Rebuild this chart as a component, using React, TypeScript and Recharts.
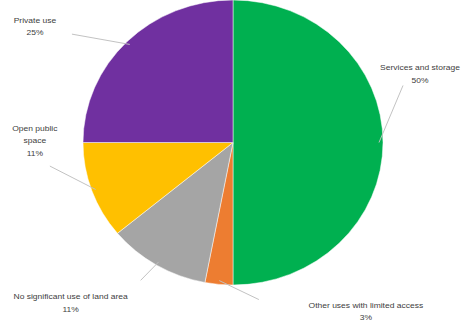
import React from 'react';
import { PieChart, Pie, Cell } from 'recharts';

// slice order: clockwise from 12 o'clock
const categories = [
  'Services and storage',
  'Other uses with limited access',
  'No significant use of land area',
  'Open public\nspace',
  'Private use',
];
const shares = [50, 3, 11, 11, 25];
const percentLabels = ['50%', '3%', '11%', '11%', '25%'];

const colors = ['#00b050', '#ed7d31', '#a5a5a5', '#ffc000', '#7030a0'];

// label text position relative to the slice's outer edge point, and where the leader line ends
const labelOffsets = [
  { dx: 37, dy: -76, lx: 20, ly: -60 },
  { dx: 147, dy: 25, lx: 40, ly: 16 },
  { dx: -86, dy: 36, lx: -16, ly: 16 },
  { dx: -57, dy: -63, lx: -42, ly: -26 },
  { dx: -92, dy: -20, lx: -55, ly: -8 },
];

const data = categories.map((name, i) => ({ name, value: shares[i], pct: percentLabels[i] }));

const RADIAN = Math.PI / 180;
const SQUASH = 0.95; // the source pie is slightly wider than tall

function renderLabel(props: any) {
  const { cx, cy, midAngle, outerRadius, index } = props;
  const cos = Math.cos(-midAngle * RADIAN);
  const sin = Math.sin(-midAngle * RADIAN);
  const ex = cx + outerRadius * cos;
  const ey = cy + outerRadius * sin;
  const off = labelOffsets[index];
  const lines = String(data[index].name).split('\n');
  const tx = ex + off.dx;
  const ty = ey + off.dy;
  return (
    <g key={`lbl-${index}`}>
      <line
        x1={ex - cos * 4}
        y1={ey - sin * 4}
        x2={ex + off.lx}
        y2={ey + off.ly}
        stroke="#c0c0c0"
        strokeWidth={1}
      />
      <text x={tx} y={ty} textAnchor="middle" fontSize={8.5} fill="#404040" fontFamily="Liberation Sans, Arial, sans-serif">
        {lines.map((l, i) => (
          <tspan key={i} x={tx} dy={i === 0 ? 0 : 13}>
            {l}
          </tspan>
        ))}
        <tspan x={tx} dy={13}>{data[index].pct}</tspan>
      </text>
    </g>
  );
}

export default function App() {
  return (
    <div style={{ position: 'absolute', left: 0, top: 0, width: 465, height: 329, overflow: 'hidden', background: '#fff' }}>
      <div style={{ transform: `scaleY(${SQUASH})`, transformOrigin: '0 0' }}>
        <PieChart width={465} height={346} margin={{ top: 0, right: 0, bottom: 0, left: 0 }}>
          <Pie
            data={data}
            dataKey="value"
            nameKey="name"
            cx={233}
            cy={150}
            outerRadius={150}
            startAngle={90}
            endAngle={-270}
            stroke="#ffffff"
            strokeWidth={0.5}
            label={renderLabel}
            labelLine={false}
            isAnimationActive={false}
          >
            {data.map((d, i) => (
              <Cell key={d.name} fill={colors[i]} />
            ))}
          </Pie>
        </PieChart>
      </div>
    </div>
  );
}
